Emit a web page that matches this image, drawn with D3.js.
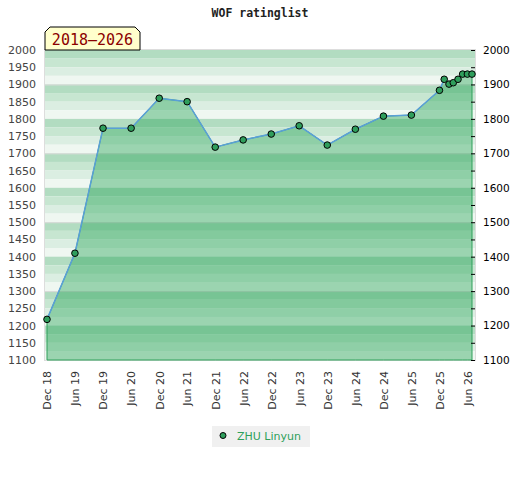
<!DOCTYPE html>
<html lang="en">

<head>
    <meta charset="UTF-8" />
    <title>WOF ratinglist</title>
    <script src="https://d3js.org/d3.v7.min.js"></script>
    <style>
        body { margin: 0; background: #fff; }
        .axis text { font-family: "DejaVu Sans", sans-serif; font-size: 11px; }
        .axis path { display: none; }
    </style>
</head>

<body>
    <script>
        // rating history, one value per listed month
        var months = ["2018-12", "2019-06", "2019-12", "2020-06", "2020-12", "2021-06",
            "2021-12", "2022-06", "2022-12", "2023-06", "2023-12", "2024-06", "2024-12",
            "2025-06", "2025-12", "2026-01", "2026-02", "2026-03", "2026-04", "2026-05",
            "2026-06", "2026-07"];
        var ratings = [1218, 1410, 1773, 1773, 1860, 1850, 1718, 1739, 1756, 1780, 1724,
            1770, 1808, 1811, 1883, 1915, 1901, 1905, 1915, 1930, 1930, 1930];
        var tickMonths = ["2018-12", "2019-06", "2019-12", "2020-06", "2020-12", "2021-06",
            "2021-12", "2022-06", "2022-12", "2023-06", "2023-12", "2024-06", "2024-12",
            "2025-06", "2025-12", "2026-06"];
        var playerName = "ZHU Linyun";
        var periodLabel = "2018–2026";
        var chartTitle = "WOF ratinglist";

        var parse = d3.timeParse("%Y-%m");
        var data = months.map(function (m, i) { return { date: parse(m), value: ratings[i] }; });

        var w = 520, h = 480;
        var plot = { left: 45, right: 475, top: 50, bottom: 360 };

        var svg = d3.select("body").append("svg")
            .attr("width", w)
            .attr("height", h);

        var xScale = d3.scaleTime()
            .domain([parse("2018-12"), parse("2026-07")])
            .range([47, 472]);

        var yScale = d3.scaleLinear()
            .domain([1100, 2000])
            .range([plot.bottom, plot.top]);

        // striped background, 4 shades per 100 points
        var shades = ["#b2dcc1", "#c7e6d1", "#dbeee2", "#eff7f1"];
        var bands = d3.range(2000, 1100, -25);
        svg.append("g").selectAll("rect")
            .data(bands)
            .enter().append("rect")
            .attr("x", plot.left)
            .attr("width", plot.right - plot.left)
            .attr("y", function (d) { return yScale(d); })
            .attr("height", function (d) { return yScale(d - 25) - yScale(d); })
            .attr("fill", function (d, i) { return shades[i % 4]; });

        svg.append("g").selectAll("line")
            .data([1900, 1700, 1500, 1300])
            .enter().append("line")
            .attr("x1", plot.left).attr("x2", plot.right)
            .attr("y1", function (d) { return yScale(d) + 0.5; })
            .attr("y2", function (d) { return yScale(d) + 0.5; })
            .attr("stroke", "#dadada");

        svg.append("rect")
            .attr("x", plot.left - 0.5).attr("y", plot.top - 0.5)
            .attr("width", plot.right - plot.left + 1)
            .attr("height", plot.bottom - plot.top + 1)
            .attr("fill", "none")
            .attr("stroke", "#dddddd");

        // area under the rating line
        var area = d3.area()
            .x(function (d) { return xScale(d.date); })
            .y0(yScale(1100))
            .y1(function (d) { return yScale(d.value); });

        svg.append("path")
            .datum(data)
            .attr("d", area)
            .attr("fill", "rgb(30,160,80)")
            .attr("fill-opacity", 0.4)
            .attr("stroke", "#2ea05a")
            .attr("stroke-width", 1);

        var line = d3.line()
            .x(function (d) { return xScale(d.date); })
            .y(function (d) { return yScale(d.value); });

        svg.append("path")
            .datum(data)
            .attr("d", line)
            .attr("fill", "none")
            .attr("stroke", "#5a9fd8")
            .attr("stroke-width", 1.5);

        svg.append("g").selectAll("circle")
            .data(data)
            .enter().append("circle")
            .attr("cx", function (d) { return xScale(d.date); })
            .attr("cy", function (d) { return yScale(d.value); })
            .attr("r", 3.3)
            .attr("fill", "#2f9e5c")
            .attr("stroke", "#000")
            .attr("stroke-width", 1);

        // axes
        var leftAxis = svg.append("g")
            .attr("class", "axis")
            .attr("transform", "translate(" + plot.left + ",0)")
            .call(d3.axisLeft(yScale)
                .tickValues(d3.range(1100, 2001, 50))
                .tickSize(0)
                .tickPadding(9)
                .tickFormat(d3.format("d")));
        leftAxis.selectAll("text").attr("fill", "#444");

        var rightAxis = svg.append("g")
            .attr("class", "axis")
            .attr("transform", "translate(" + plot.right + ",0)")
            .call(d3.axisRight(yScale)
                .tickValues(d3.range(1100, 2001, 50))
                .tickSizeInner(-4)
                .tickPadding(8)
                .tickFormat(function (d) { return d % 100 === 0 ? d : ""; }));
        rightAxis.selectAll("line").attr("stroke", "#000");
        rightAxis.selectAll("text").attr("fill", "#000").style("font-size", "10.5px");

        var bottomAxis = svg.append("g")
            .attr("class", "axis")
            .attr("transform", "translate(0," + plot.bottom + ")")
            .call(d3.axisBottom(xScale)
                .tickValues(tickMonths.map(parse))
                .tickSize(0)
                .tickFormat(d3.timeFormat("%b %y")));
        bottomAxis.selectAll("text")
            .attr("fill", "#333")
            .attr("x", -11)
            .attr("y", 0)
            .attr("dy", "0.35em")
            .attr("transform", "rotate(-90)")
            .style("text-anchor", "end");

        // title
        svg.append("text")
            .attr("x", 260).attr("y", 17)
            .attr("text-anchor", "middle")
            .style("font-family", "'DejaVu Sans Mono', monospace")
            .style("font-size", "11.5px")
            .style("font-weight", "bold")
            .attr("fill", "#222")
            .text(chartTitle);

        // period box with cut corners
        var bx = 45, by = 27, bw = 95, bh = 23, c = 5;
        svg.append("path")
            .attr("d", "M" + bx + "," + (by + bh) + "V" + (by + c) + "L" + (bx + c) + "," + by +
                "H" + (bx + bw - c) + "L" + (bx + bw) + "," + (by + c) + "V" + (by + bh) + "Z")
            .attr("fill", "#ffffcc")
            .attr("stroke", "#000")
            .attr("stroke-width", 1);
        svg.append("text")
            .attr("x", bx + bw / 2).attr("y", by + 18)
            .attr("text-anchor", "middle")
            .style("font-family", "'DejaVu Sans Mono', monospace")
            .style("font-size", "15px")
            .attr("fill", "#8b0000")
            .text(periodLabel);

        // legend
        var legend = svg.append("g").attr("transform", "translate(212,426)");
        legend.append("rect")
            .attr("width", 98).attr("height", 21)
            .attr("fill", "#f0f0f0");
        legend.append("circle")
            .attr("cx", 11).attr("cy", 9.5).attr("r", 3)
            .attr("fill", "#2f9e5c")
            .attr("stroke", "#000");
        legend.append("text")
            .attr("x", 25).attr("y", 13.5)
            .style("font-family", "'DejaVu Sans', sans-serif")
            .style("font-size", "11px")
            .attr("fill", "#2ea05a")
            .text(playerName);
    </script>
</body>
</html>
